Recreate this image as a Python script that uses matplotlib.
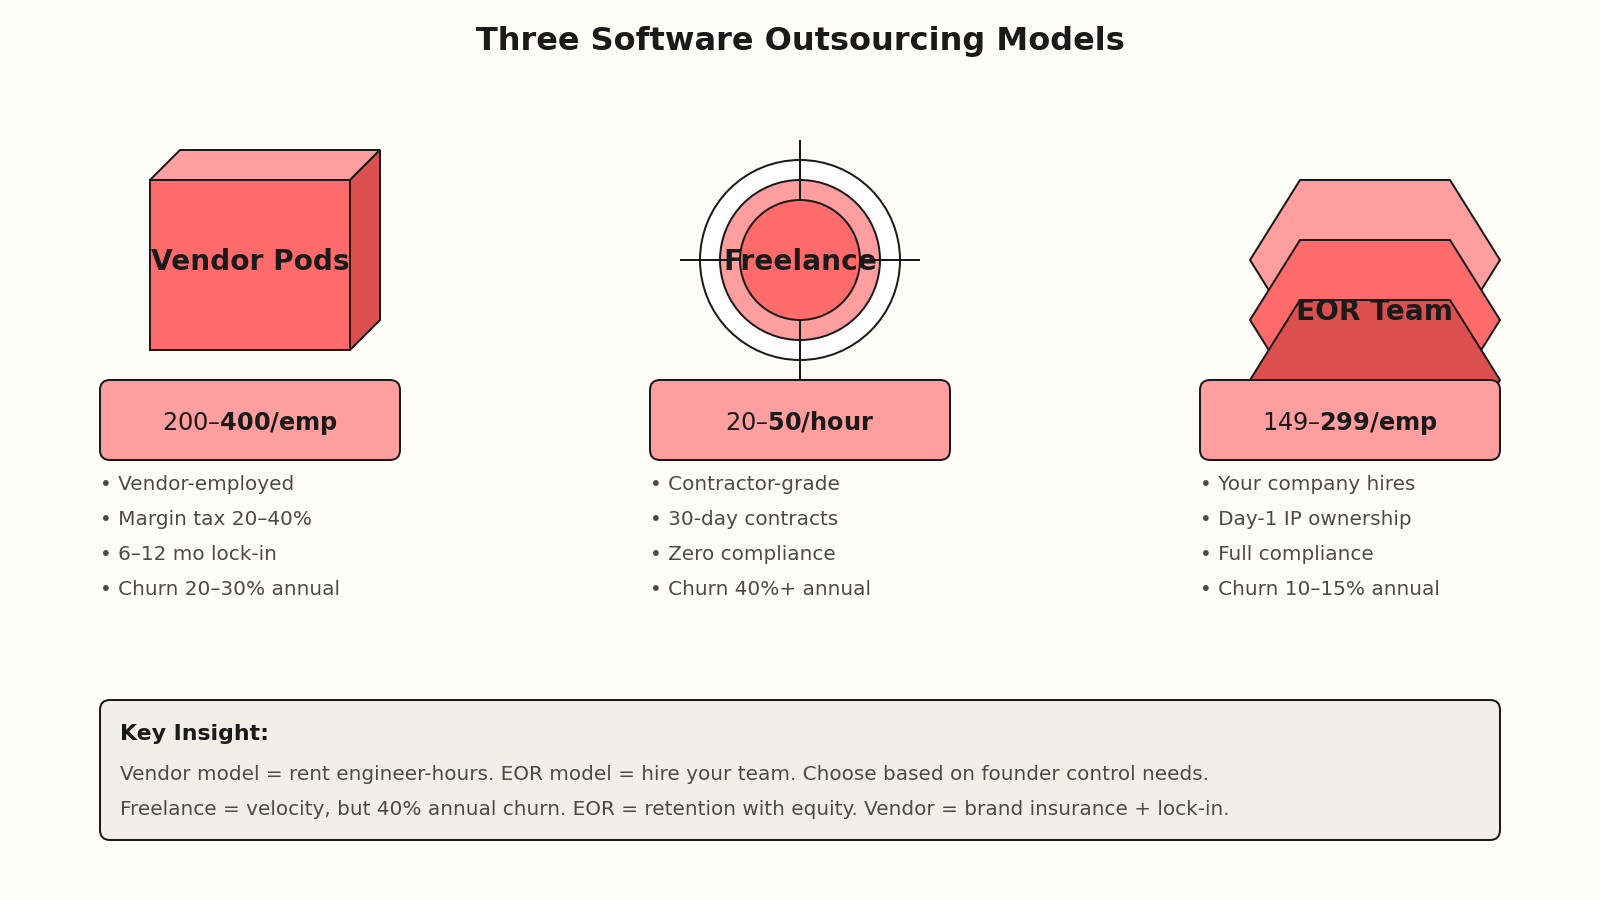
import matplotlib
matplotlib.use("Agg")
import matplotlib.pyplot as plt
from matplotlib.patches import Polygon, Circle, Rectangle, FancyBboxPatch

title = "Three Software Outsourcing Models"
models = ["Vendor Pods", "Freelance", "EOR Team"]
prices = ["$200–$400/emp", "$20–$50/hour", "$149–$299/emp"]
bullets = [
    ["Vendor-employed", "Margin tax 20–40%", "6–12 mo lock-in", "Churn 20–30% annual"],
    ["Contractor-grade", "30-day contracts", "Zero compliance", "Churn 40%+ annual"],
    ["Your company hires", "Day-1 IP ownership", "Full compliance", "Churn 10–15% annual"],
]
insight_head = "Key Insight:"
insight_lines = [
    "Vendor model = rent engineer-hours. EOR model = hire your team. Choose based on founder control needs.",
    "Freelance = velocity, but 40% annual churn. EOR = retention with equity. Vendor = brand insurance + lock-in.",
]

BG, DARK, GRAY = "#FFFDF7", "#1A1A1A", "#4A4A4A"
CORAL, LIGHT, DEEP, PANEL = "#FF6B6B", "#FF9E9E", "#DC4F4F", "#F2EEE8"
PX = 0.72  # points per pixel at dpi 100
LW = 2 * PX

fig = plt.figure(figsize=(16, 9), dpi=100, facecolor=BG)
ax = fig.add_axes([0, 0, 1, 1])
ax.set_xlim(0, 1600)
ax.set_ylim(900, 0)
ax.axis("off")


def txt(x, y, s, size, color=DARK, bold=False, ha="left", z=10):
    ax.text(x, y, s, fontsize=size * PX, color=color, ha=ha, va="baseline",
            fontweight="bold" if bold else "normal", family="DejaVu Sans", zorder=z)


def poly(pts, fc, z):
    ax.add_patch(Polygon(pts, closed=True, fc=fc, ec=DARK, lw=LW, zorder=z, joinstyle="miter"))


def rbox(x, y, w, h, fc, z):
    ax.add_patch(FancyBboxPatch((x, y), w, h, boxstyle="round,pad=0,rounding_size=10",
                                fc=fc, ec=DARK, lw=LW, zorder=z))


txt(800, 50, title, 32, bold=True, ha="center")

# Vendor cube
ax.add_patch(Rectangle((150, 180), 200, 170, fc=CORAL, ec=DARK, lw=LW, zorder=2))
poly([(150, 180), (180, 150), (380, 150), (350, 180)], LIGHT, 2)
poly([(350, 180), (380, 150), (380, 320), (350, 350)], DEEP, 2)
txt(250, 270, models[0], 28, bold=True, ha="center")

# Freelance target
cx, cy = 800, 260
ax.add_patch(Circle((cx, cy), 100, fc="white", ec=DARK, lw=LW, zorder=2))
ax.add_patch(Circle((cx, cy), 80, fc=LIGHT, ec=DARK, lw=LW, zorder=2.1))
ax.plot([cx, cx], [cy - 120, cy + 120], color=DARK, lw=LW, zorder=2.2, solid_capstyle="butt")
ax.plot([cx - 120, cx + 120], [cy, cy], color=DARK, lw=LW, zorder=2.2, solid_capstyle="butt")
ax.add_patch(Circle((cx, cy), 60, fc=CORAL, ec=DARK, lw=LW, zorder=2.3))
txt(800, 270, models[1], 28, bold=True, ha="center")

# EOR stacked hexagons
for top, col, z in [(180, LIGHT, 2), (240, CORAL, 2.1), (300, DEEP, 2.2)]:
    poly([(1300, top), (1450, top), (1500, top + 80), (1450, top + 160),
          (1300, top + 160), (1250, top + 80)], col, z)
txt(1375, 320, models[2], 28, bold=True, ha="center")

# Price cards and bullet lists
for left, price, items in zip([100, 650, 1200], prices, bullets):
    rbox(left, 380, 300, 80, LIGHT, 5)
    txt(left + 150, 430, price, 24, bold=True, ha="center")
    for i, item in enumerate(items):
        txt(left, 490 + 35 * i, "• " + item, 20, color=GRAY)

# Insight panel
rbox(100, 700, 1400, 140, PANEL, 5)
txt(120, 740, insight_head, 22, bold=True)
for i, line in enumerate(insight_lines):
    txt(120, 780 + 35 * i, line, 20, color=GRAY)

fig.savefig("out.png", dpi=100, facecolor=BG)
